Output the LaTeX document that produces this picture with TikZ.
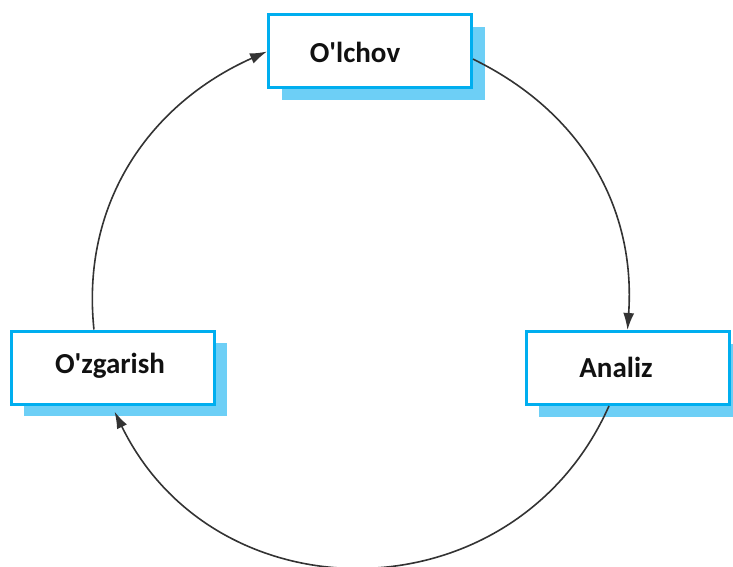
\documentclass[tikz,border=0pt]{standalone}
\usepackage{fontspec}
\setmainfont{Carlito}
\usetikzlibrary{arrows.meta,calc,shadows}

\definecolor{boxline}{HTML}{00AEEF}
\definecolor{boxshade}{HTML}{6DCFF6}
\definecolor{arcline}{HTML}{333333}
\definecolor{labeltext}{HTML}{111111}

\tikzset{
  stagebox/.style={
    draw=boxline, line width=3pt, fill=white,
    minimum width=203pt, minimum height=73pt, inner sep=0pt,
    general shadow={shadow xshift=13pt, shadow yshift=-12pt, fill=boxshade}
  },
  stagelabel/.style={
    font=\fontsize{29}{34}\selectfont\bfseries, text=labeltext, inner sep=0pt
  },
  cycle/.style={
    draw=arcline, line width=1.6pt,
    -{Latex[length=17pt,width=11pt]}
  }
}

\begin{document}
\begin{tikzpicture}[x=1pt,y=-1pt]
  \useasboundingbox (0,0) rectangle (733,567);

  % the three stages of the cycle
  \node[stagebox] (olchov)   at (370,51.5)  {};
  \node[stagebox] (ozgarish) at (112.5,367.5) {};
  \node[stagebox] (analiz)   at (627.5,368) {};

  \node[stagelabel] (olchovtxt)   at (355,52)  {O\textquotesingle lchov};
  \node[stagelabel] (ozgarishtxt) at (110,366) {O\textquotesingle zgarish};
  \node[stagelabel] (analiztxt)   at (616,367) {Analiz};

  % connection points on the box edges
  \coordinate (ozgtop) at ($(ozgarish.north west)!0.41!(ozgarish.north east)$);
  \coordinate (olcright) at ($(olchov.north east)!0.6!(olchov.south east)$);
  \coordinate (anabot) at ($(analiz.south west)!0.41!(analiz.south east)$);
  \coordinate (ozgbot) at ($(ozgarish.south)+(2,6)$);

  % arcs of the cycle
  \draw[cycle] (ozgtop) to[out=96,in=204,looseness=1.0] (olchov.west);
  \draw[cycle] (olcright) to[out=-26,in=86,looseness=1.0] (analiz.north);
  \draw[cycle] (anabot) to[out=-114,in=-64,looseness=1.2] (ozgbot);
\end{tikzpicture}
\end{document}
